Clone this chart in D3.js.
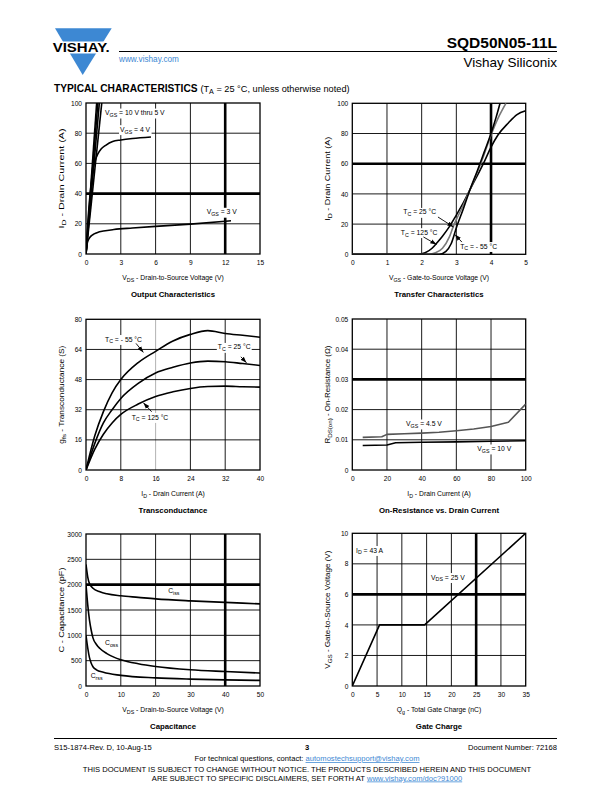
<!DOCTYPE html>
<html><head><meta charset="utf-8">
<script src="https://cdn.jsdelivr.net/npm/d3@7"></script>
<style>
body{margin:0;background:#fff}
svg{display:block}
text{font-family:"Liberation Sans",Arial,Helvetica,sans-serif}
</style>
</head><body>
<svg id="page" width="612" height="792"></svg>
<script>
// ---------------- DATA ----------------
// Output characteristics
const outXTicks = [0, 3, 6, 9, 12, 15];
const outYTicks = [0, 20, 40, 60, 80, 100];
const outVgs10 = [[0, 0], [0.92, 100]];
const outVgs8 = [[0, 0], [1.02, 100]];
const outVgs6 = [[0, 0], [1.15, 100]];
const outVgs5 = [[0, 0], [1.36, 100]];
const outVgs4 = [[0, 0], [0.15, 20], [0.3, 35], [0.45, 47], [0.6, 56], [0.8, 62], [1.0, 66], [1.3, 69.5], [1.7, 72], [2.3, 74.5], [3, 75.5], [4, 76.5], [5.6, 77.5]];
const outVgs3 = [[0, 0], [0.05, 4], [0.12, 7.5], [0.25, 10], [0.45, 12], [0.7, 13.3], [1, 14.3], [1.5, 15.2], [2.4, 16.2], [4, 17.2], [6, 18.3], [9, 19.8], [12.5, 22]];

// Transfer characteristics
const trXTicks = [0, 1, 2, 3, 4, 5];
const trYTicks = [0, 20, 40, 60, 80, 100];
const trT125 = [[0, 0], [1.9, 0], [2.1, 1], [2.3, 4], [2.43, 7.3], [2.6, 12], [2.8, 18.3], [3.0, 26], [3.2, 34], [3.39, 42.6], [3.6, 52], [3.8, 61], [4.0, 71], [4.2, 79], [4.5, 87], [4.75, 92.5], [5.0, 95]];
const trT25 = [[0, 0], [2.2, 0], [2.4, 1], [2.6, 4], [2.8, 11.5], [2.91, 18.3], [3.0, 23], [3.2, 32.5], [3.39, 42.6], [3.6, 54], [3.8, 66], [4.0, 79], [4.2, 90], [4.43, 100]];
const trTm55 = [[0, 0], [2.5, 0], [2.7, 2], [2.85, 7], [3.01, 18.3], [3.2, 30], [3.39, 42.6], [3.6, 55], [3.8, 67.5], [4.0, 80], [4.15, 91], [4.26, 100]];

// Transconductance
const gfsXTicks = [0, 8, 16, 24, 32, 40];
const gfsYTicks = [0, 16, 32, 48, 64, 80];
const gfsTm55 = [[0, 0], [2, 18], [4, 31], [6, 41], [8, 48], [12, 57], [16, 63], [20, 68.5], [24, 72], [28, 74], [32, 72.5], [36, 71.5], [40, 70.5]];
const gfsT25 = [[0, 0], [2, 14], [4, 25], [6, 32], [8, 38], [12, 46], [16, 51.5], [20, 54.5], [24, 56.8], [28, 57.8], [32, 57.5], [36, 56.5], [40, 55.5]];
const gfsT125 = [[0, 0], [2, 11], [4, 19], [6, 25], [8, 29.5], [12, 35], [16, 39], [20, 41.5], [24, 43.3], [28, 44.3], [32, 44.5], [36, 44.2], [40, 44]];

// On-resistance vs drain current
const rdsXTicks = [0, 20, 40, 60, 80, 100];
const rdsYTicks = [0, 0.01, 0.02, 0.03, 0.04, 0.05];
const rdsVgs45 = [[6, 0.0108], [17, 0.011], [20, 0.0118], [30, 0.012], [40, 0.0122], [50, 0.0125], [60, 0.013], [70, 0.0136], [80, 0.0144], [90, 0.0158], [100, 0.0218]];
const rdsVgs10 = [[6, 0.0081], [20, 0.0083], [25, 0.009], [40, 0.0092], [60, 0.0093], [80, 0.0095], [100, 0.0097]];

// Capacitance
const capXTicks = [0, 10, 20, 30, 40, 50];
const capYTicks = [0, 500, 1000, 1500, 2000, 2500, 3000];
const capCiss = [[0, 2400], [0.5, 2150], [1, 2020], [2, 1930], [4, 1860], [6, 1820], [10, 1780], [15, 1750], [20, 1720], [30, 1680], [40, 1650], [50, 1620]];
const capCoss = [[0, 2000], [0.5, 1600], [1, 1300], [1.5, 1100], [2, 950], [3, 820], [4, 740], [6, 640], [8, 570], [10, 520], [15, 440], [20, 385], [30, 320], [40, 285], [50, 255]];
const capCrss = [[0, 1000], [0.5, 750], [1, 560], [1.5, 450], [2, 380], [3, 320], [5, 270], [10, 210], [20, 160], [30, 135], [40, 120], [50, 110]];

// Gate charge
const qgXTicks = [0, 5, 10, 15, 20, 25, 30, 35];
const qgYTicks = [0, 2, 4, 6, 8, 10];
const qgVgs = [[0, 0], [5.5, 4], [14.6, 4], [35, 10]];

// ---------------- DRAWING ----------------
const svg = d3.select("#page");
const FONT = '"Liberation Sans",Arial,Helvetica,sans-serif';

svg.append("defs").append("marker")
  .attr("id", "arr").attr("viewBox", "0 0 10 10").attr("refX", 10).attr("refY", 5)
  .attr("markerWidth", 7).attr("markerHeight", 7).attr("orient", "auto")
  .append("path").attr("d", "M0,1.5 L10,5 L0,8.5 z").attr("fill", "#000");

// text with _{sub} markup
function rich(t, str, size) {
  const parts = str.split(/(_\{[^}]*\})/).filter(s => s.length);
  let inSub = false;
  parts.forEach(p => {
    const m = p.match(/^_\{([^}]*)\}$/);
    if (m) {
      t.append("tspan").attr("font-size", size * 0.78).attr("dy", size * 0.28).text(m[1]);
      inSub = true;
    } else {
      const ts = t.append("tspan").attr("font-size", size).text(p);
      if (inSub) { ts.attr("dy", -size * 0.28); inSub = false; }
    }
  });
  return t;
}

let clipId = 0;
function chart(o) {
  const g = svg.append("g");
  const x = d3.scaleLinear().domain(o.xDomain).range([o.x0, o.x1]);
  const y = d3.scaleLinear().domain(o.yDomain).range([o.y1, o.y0]);
  // grid
  o.xTicks.slice(1, -1).forEach(t => {
    g.append("line").attr("x1", x(t)).attr("x2", x(t)).attr("y1", o.y0).attr("y2", o.y1)
      .attr("stroke", (o.grayX || []).includes(t) ? "#aaa" : "#000")
      .attr("stroke-width", (o.thickX || []).includes(t) ? 2.6 : 0.9);
  });
  o.yTicks.slice(1, -1).forEach(t => {
    g.append("line").attr("y1", y(t)).attr("y2", y(t)).attr("x1", o.x0).attr("x2", o.x1)
      .attr("stroke", "#000")
      .attr("stroke-width", (o.thickY || []).includes(t) ? 2.6 : 0.9);
  });
  // axes (labels only)
  const ay = g.append("g").attr("transform", `translate(${o.x0},0)`)
    .call(d3.axisLeft(y).tickValues(o.yTicks).tickSize(0).tickPadding(4).tickFormat(o.yFmt || (d => d)));
  const ax = g.append("g").attr("transform", `translate(0,${o.y1})`)
    .call(d3.axisBottom(x).tickValues(o.xTicks).tickSize(0).tickPadding(6).tickFormat(o.xFmt || (d => d)));
  [ax, ay].forEach(a => {
    a.select(".domain").remove();
    a.selectAll("text").attr("font-family", FONT).attr("font-size", 6.6).attr("fill", "#000");
  });
  // annotation label backgrounds + labels
  const lg = g.append("g");
  (o.labels || []).forEach(l => {
    const t = rich(lg.append("text").attr("x", x(l.x)).attr("y", y(l.y)).attr("fill", "#000"), l.text, 6.8);
    const b = t.node().getBBox();
    lg.insert("rect", () => t.node()).attr("x", b.x - 1).attr("y", b.y - 0.5)
      .attr("width", b.width + 2).attr("height", b.height + 1).attr("fill", "#fff");
  });
  g.append("rect").attr("x", o.x0).attr("y", o.y0).attr("width", o.x1 - o.x0).attr("height", o.y1 - o.y0)
    .attr("fill", "none").attr("stroke", "#000").attr("stroke-width", 1.3);
  // clip
  const cid = "clip" + (clipId++);
  g.append("clipPath").attr("id", cid).append("rect")
    .attr("x", o.x0).attr("y", o.y0).attr("width", o.x1 - o.x0).attr("height", o.y1 - o.y0);
  const line = d3.line().x(d => x(d[0])).y(d => y(d[1])).curve(o.curve || d3.curveMonotoneX);
  const sg = g.append("g").attr("clip-path", `url(#${cid})`);
  o.series.forEach(s => {
    sg.append("path").datum(s.data).attr("d", line).attr("fill", "none")
      .attr("stroke", s.color || "#000").attr("stroke-width", s.width || 1.6)
      .attr("stroke-linejoin", "round");
  });
  (o.arrows || []).forEach(a => {
    g.append("line").attr("x1", x(a[0][0])).attr("y1", y(a[0][1])).attr("x2", x(a[1][0])).attr("y2", y(a[1][1]))
      .attr("stroke", "#000").attr("stroke-width", 0.9).attr("marker-end", "url(#arr)");
  });
  // axis titles
  const cx = (o.x0 + o.x1) / 2, cy = (o.y0 + o.y1) / 2 + (o.yLabelShift || 0);
  rich(g.append("text").attr("x", cx).attr("y", o.y1 + 26).attr("text-anchor", "middle"), o.xLabel, 6.8);
  rich(g.append("text").attr("transform", `translate(${o.x0 - 22},${cy}) rotate(-90)`).attr("text-anchor", "middle")
    .attr("textLength", o.yLabelLen).attr("lengthAdjust", "spacingAndGlyphs"), o.yLabel, 7.4);
  g.append("text").attr("x", cx).attr("y", o.y1 + 42.5).attr("text-anchor", "middle")
    .attr("font-size", 7.8).attr("font-weight", "bold").text(o.title);
}

const L = [86, 260], R = [352.3, 525.7];

chart({
  x0: L[0], x1: L[1], y0: 103, y1: 254, xDomain: [0, 15], yDomain: [0, 100],
  xTicks: outXTicks, yTicks: outYTicks, thickX: [12], thickY: [40],
  series: [{ data: outVgs10 }, { data: outVgs8 }, { data: outVgs6 }, { data: outVgs5 }, { data: outVgs4 }, { data: outVgs3 }],
  labels: [{ x: 1.64, y: 92, text: "V_{GS} = 10 V thru 5 V" }, { x: 2.93, y: 81, text: "V_{GS} = 4 V" }, { x: 10.4, y: 26.3, text: "V_{GS} = 3 V" }],
  xLabel: "V_{DS} - Drain-to-Source Voltage (V)", yLabel: "I_{D} - Drain Current (A)", yLabelLen: 100, title: "Output Characteristics"
});

chart({
  x0: R[0], x1: R[1], y0: 103.3, y1: 254.3, xDomain: [0, 5], yDomain: [0, 100],
  xTicks: trXTicks, yTicks: trYTicks, thickX: [4], thickY: [60],
  series: [{ data: trT125 }, { data: trT25, color: "#7a7a7a" }, { data: trTm55 }],
  labels: [{ x: 1.47, y: 26.4, text: "T_{C} = 25 °C" }, { x: 1.40, y: 13, text: "T_{C} = 125 °C" }, { x: 3.11, y: 3.8, text: "T_{C} = - 55 °C" }],
  arrows: [[[2.47, 24.7], [2.92, 18.1]], [[2.05, 11.5], [2.43, 6.5]], [[3.16, 8.1], [2.96, 13.1]]],
  xLabel: "V_{GS} - Gate-to-Source Voltage (V)", yLabel: "I_{D} - Drain Current (A)", yLabelLen: 84, title: "Transfer Characteristics"
});

chart({
  x0: L[0], x1: L[1], y0: 319.3, y1: 470, xDomain: [0, 40], yDomain: [0, 80],
  xTicks: gfsXTicks, yTicks: gfsYTicks, grayX: [16],
  series: [{ data: gfsTm55 }, { data: gfsT25 }, { data: gfsT125 }],
  labels: [{ x: 4.37, y: 68.2, text: "T_{C} = - 55 °C" }, { x: 30.3, y: 64, text: "T_{C} = 25 °C" }, { x: 10.5, y: 26.8, text: "T_{C} = 125 °C" }],
  arrows: [[[11.5, 67.2], [13.2, 62.4]], [[35.6, 60.1], [36.9, 56.9]], [[15.1, 30.9], [13.2, 35.7]]],
  xLabel: "I_{D} - Drain Current (A)", yLabel: "g_{fs} - Transconductance (S)", yLabelLen: 98, title: "Transconductance"
});

chart({
  x0: R[0], x1: R[1], y0: 319, y1: 470, xDomain: [0, 100], yDomain: [0, 0.05],
  xTicks: rdsXTicks, yTicks: rdsYTicks, thickY: [0.03], curve: d3.curveLinear,
  yFmt: d => d === 0 ? "0" : d3.format(".2f")(d),
  series: [{ data: rdsVgs45, color: "#555" }, { data: rdsVgs10 }],
  labels: [{ x: 31, y: 0.01457, text: "V_{GS} = 4.5 V" }, { x: 72.1, y: 0.00629, text: "V_{GS} = 10 V" }],
  xLabel: "I_{D} - Drain Current (A)", yLabel: "R_{DS(on)} - On-Resistance (Ω)", yLabelLen: 98, title: "On-Resistance vs. Drain Current"
});

chart({
  x0: L[0], x1: L[1], y0: 534, y1: 686, xDomain: [0, 50], yDomain: [0, 3000],
  xTicks: capXTicks, yTicks: capYTicks, thickX: [40], thickY: [2000],
  series: [{ data: capCiss }, { data: capCoss }, { data: capCrss }],
  labels: [{ x: 23.6, y: 1835, text: "C_{iss}" }, { x: 5.46, y: 809, text: "C_{oss}" }, { x: 1.35, y: 158, text: "C_{rss}" }],
  xLabel: "V_{DS} - Drain-to-Source Voltage (V)", yLabel: "C - Capacitance (pF)", yLabelLen: 85, title: "Capacitance"
});

chart({
  x0: R[0], x1: R[1], y0: 533.3, y1: 686, xDomain: [0, 35], yDomain: [0, 10],
  xTicks: qgXTicks, yTicks: qgYTicks, thickX: [25], thickY: [6], curve: d3.curveLinear,
  series: [{ data: qgVgs }],
  labels: [{ x: 0.75, y: 8.74, text: "I_{D} = 43 A" }, { x: 15.9, y: 6.97, text: "V_{DS} = 25 V" }],
  xLabel: "Q_{g} - Total Gate Charge (nC)", yLabel: "V_{GS} - Gate-to-Source Voltage (V)", yLabelLen: 118, title: "Gate Charge"
});

// ---------------- HEADER ----------------
const blue = "#3d88d3";
svg.append("path").attr("d", "M55,28.3 L111.7,28.3 L82.7,75 Z").attr("fill", blue);
svg.append("rect").attr("x", 50).attr("y", 41.5).attr("width", 64).attr("height", 12).attr("fill", "#fff");
svg.append("text").attr("x", 52.7).attr("y", 52.3).attr("font-size", 13.5).attr("font-weight", "bold")
  .attr("textLength", 57).attr("lengthAdjust", "spacingAndGlyphs").text("VISHAY.");
svg.append("line").attr("x1", 119).attr("x2", 557).attr("y1", 51.5).attr("y2", 51.5).attr("stroke", "#000").attr("stroke-width", 1);
svg.append("text").attr("x", 557).attr("y", 47.5).attr("text-anchor", "end").attr("font-size", 15.5).attr("font-weight", "bold").text("SQD50N05-11L");
svg.append("text").attr("x", 557).attr("y", 67).attr("text-anchor", "end").attr("font-size", 13.5).text("Vishay Siliconix");
svg.append("text").attr("x", 119).attr("y", 62).attr("font-size", 8.2).attr("fill", blue).text("www.vishay.com");
const tc = svg.append("text").attr("x", 54).attr("y", 91.5);
tc.append("tspan").attr("font-size", 10.2).attr("font-weight", "bold").text("TYPICAL CHARACTERISTICS ");
rich(tc, "(T_{A} = 25 °C, unless otherwise noted)", 9.2);

// ---------------- FOOTER ----------------
svg.append("line").attr("x1", 54).attr("x2", 557).attr("y1", 738.5).attr("y2", 738.5).attr("stroke", "#000").attr("stroke-width", 1);
svg.append("text").attr("x", 54).attr("y", 750).attr("font-size", 7.6).text("S15-1874-Rev. D, 10-Aug-15");
svg.append("text").attr("x", 307).attr("y", 750).attr("text-anchor", "middle").attr("font-size", 7.6).attr("font-weight", "bold").text("3");
svg.append("text").attr("x", 557).attr("y", 750).attr("text-anchor", "end").attr("font-size", 7.6).text("Document Number: 72168");
const f2 = svg.append("text").attr("x", 307).attr("y", 761).attr("text-anchor", "middle").attr("font-size", 7.6);
f2.append("tspan").text("For technical questions, contact: ");
f2.append("tspan").attr("fill", blue).attr("text-decoration", "underline").text("automostechsupport@vishay.com");
svg.append("text").attr("x", 307).attr("y", 771.5).attr("text-anchor", "middle").attr("font-size", 7.6)
  .text("THIS DOCUMENT IS SUBJECT TO CHANGE WITHOUT NOTICE. THE PRODUCTS DESCRIBED HEREIN AND THIS DOCUMENT");
const f4 = svg.append("text").attr("x", 307).attr("y", 780.5).attr("text-anchor", "middle").attr("font-size", 7.6);
f4.append("tspan").text("ARE SUBJECT TO SPECIFIC DISCLAIMERS, SET FORTH AT ");
f4.append("tspan").attr("fill", blue).attr("text-decoration", "underline").text("www.vishay.com/doc?91000");
</script>
</body></html>
